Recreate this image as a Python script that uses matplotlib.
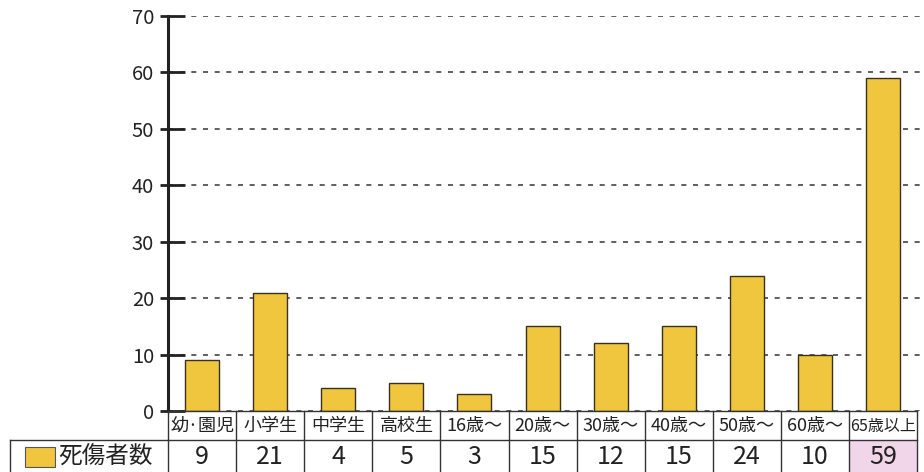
import matplotlib
matplotlib.use("Agg")
import matplotlib.pyplot as plt
from matplotlib.transforms import blended_transform_factory
from matplotlib.lines import Line2D
from matplotlib.patches import Rectangle

plt.rcParams['font.family'] = ['Noto Sans CJK JP', 'DejaVu Sans']

# 年齢層別の死傷者数
categories = ["幼·園児", "小学生", "中学生", "高校生", "16歳～", "20歳～",
              "30歳～", "40歳～", "50歳～", "60歳～", "65歳以上"]
casualties = [9, 21, 4, 5, 3, 15, 12, 15, 24, 10, 59]
series_name = "死傷者数"
yticks = [0, 10, 20, 30, 40, 50, 60, 70]

bar_color = "#F0C63E"
pink = "#F0D6E8"
line_color = "#333333"

W, H = 924, 472
fig = plt.figure(figsize=(W / 100, H / 100), dpi=100)
fig.patch.set_facecolor("white")

# axes placed in pixel units
left, right, top, bottom = 168, 924, 16, 411
ax = fig.add_axes([left / W, (H - bottom) / H, (right - left) / W, (bottom - top) / H])

cell_w = 68.1
n = len(categories)
x = list(range(n))
ax.bar(x, casualties, width=0.5, color=bar_color, edgecolor="#3a3020", linewidth=1.0, zorder=3)

ax.set_ylim(0, 70)
ax.set_xlim(-0.5, -0.5 + (right - left) / cell_w)
ax.set_yticks(yticks)
ax.set_yticks(yticks, minor=True)
ax.yaxis.remove_overlapping_locs = False
ax.set_xticks([])
ax.tick_params(axis="y", which="major", direction="out", length=6, width=2, labelsize=14.5, pad=4, colors="#222222")
ax.tick_params(axis="y", which="minor", direction="in", length=12, width=2, colors="#222222")

for s in ["top", "right", "bottom"]:
    ax.spines[s].set_visible(False)
ax.spines["left"].set_linewidth(2.2)
ax.spines["left"].set_color("#222222")

ax.set_axisbelow(True)
ax.yaxis.grid(True, which="major", color="#444444", linewidth=1.2, linestyle=(0, (3, 4)))

# table under the axis: category row and value row
tr = blended_transform_factory(ax.transData, fig.transFigure)
fy = lambda py: (H - py) / H
row1_top, row1_bot, row2_bot = 411, 440, 472
x_end = n - 0.5

# pink background for the last value cell
fig.add_artist(Rectangle((n - 1.5, fy(row2_bot)), 1, fy(row1_bot) - fy(row2_bot),
                         transform=tr, facecolor=pink, edgecolor="none", zorder=0))

lw = 1.0
fig.add_artist(Line2D([-0.5, x_end], [fy(row1_top)] * 2, transform=tr, color=line_color, lw=lw))
fig.add_artist(Line2D([-0.5, x_end], [fy(row1_bot)] * 2, transform=tr, color=line_color, lw=lw))
for i in range(n + 1):
    fig.add_artist(Line2D([i - 0.5, i - 0.5], [fy(row1_top), fy(row2_bot)], transform=tr, color=line_color, lw=lw))

# legend cell on the left of the value row
fig.add_artist(Line2D([10 / W, left / W], [fy(row1_bot)] * 2, color=line_color, lw=lw))
fig.add_artist(Line2D([10 / W, 10 / W], [fy(row1_bot), fy(row2_bot)], color=line_color, lw=lw))
fig.add_artist(Rectangle((25 / W, fy(467)), 30 / W, 20 / H, facecolor=bar_color,
                         edgecolor="#555555", linewidth=0.8))
fig.text(106 / W, fy(456), series_name, ha="center", va="center", fontsize=17, color="#222222")

for i, (c, v) in enumerate(zip(categories, casualties)):
    size = 13 if len(c) <= 4 else 11.5
    fig.text(i, fy(426), c, transform=tr, ha="center", va="center", fontsize=size, color="#222222")
    fig.text(i, fy(457), str(v), transform=tr, ha="center", va="center", fontsize=18, color="#222222")

fig.savefig("out.png", dpi=100)
